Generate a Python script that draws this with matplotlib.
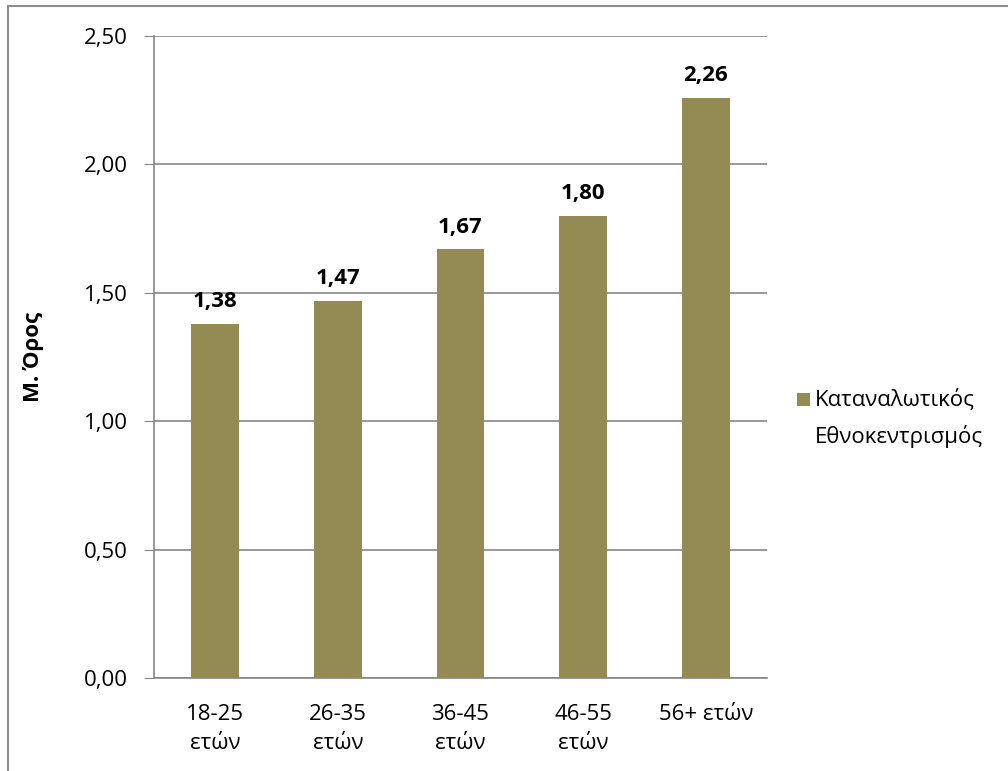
import matplotlib
matplotlib.use("Agg")
import matplotlib.pyplot as plt
from matplotlib.lines import Line2D
from matplotlib.patches import Rectangle

categories = ["18-25\nετών", "26-35\nετών", "36-45\nετών", "46-55\nετών", "56+ ετών"]
values = [1.38, 1.47, 1.67, 1.80, 2.26]
labels = ["1,38", "1,47", "1,67", "1,80", "2,26"]
yticks = [0.0, 0.5, 1.0, 1.5, 2.0, 2.5]
yticklabels = ["0,00", "0,50", "1,00", "1,50", "2,00", "2,50"]
series_name = "Καταναλωτικός\nΕθνοκεντρισμός"

plt.rcParams['font.family'] = ['Open Sans', 'DejaVu Sans']
color = "#948A54"
grid = "#868686"
fs = 16

fig = plt.figure(figsize=(10.08, 7.71), dpi=100)
ax = fig.add_axes([154/1008, 1-678/771, (767-154)/1008, (678-36)/771])

x = list(range(len(categories)))
ax.bar(x, values, width=0.39, color=color, zorder=3)
for xi, v, l in zip(x, values, labels):
    ax.text(xi, v + 0.045, l, ha='center', va='bottom', fontsize=fs, fontweight='bold', zorder=4)

ax.set_xlim(-0.5, 4.5)
ax.set_ylim(0, 2.5)
ax.set_yticks(yticks)
ax.set_yticklabels(yticklabels, fontsize=fs)
ax.set_xticks(x)
ax.set_xticklabels(categories, fontsize=fs, linespacing=1.45, va='top')
ax.tick_params(axis='x', length=0, pad=19)
ax.tick_params(axis='y', length=7, color=grid, pad=12)
ax.yaxis.grid(True, color=grid, linewidth=1.2, zorder=0)
for s in ['top', 'right']:
    ax.spines[s].set_visible(False)
for s in ['left', 'bottom']:
    ax.spines[s].set_color(grid)
    ax.spines[s].set_linewidth(1.2)
ax.set_ylabel("Μ. Όρος", fontsize=fs, fontweight='bold')
ax.yaxis.set_label_coords(-0.18, 0.5)

# legend
fig.patches.append(Rectangle((797/1008, 1-406/771), 13/1008, 13/771, transform=fig.transFigure,
                             facecolor=color, edgecolor='none'))
fig.text(815/1008, 1-400/771, "Καταναλωτικός", fontsize=fs, va='center', ha='left')
fig.text(815/1008, 1-436/771, "Εθνοκεντρισμός", fontsize=fs, va='center', ha='left')

# outer border (left and top visible)
fig.add_artist(Line2D([8/1008, 8/1008], [0, 1-6/771], transform=fig.transFigure, color="#8c8c8c", linewidth=1.5))
fig.add_artist(Line2D([8/1008, 1], [1-6/771, 1-6/771], transform=fig.transFigure, color="#8c8c8c", linewidth=1.5))

fig.savefig("out.png", dpi=100)
